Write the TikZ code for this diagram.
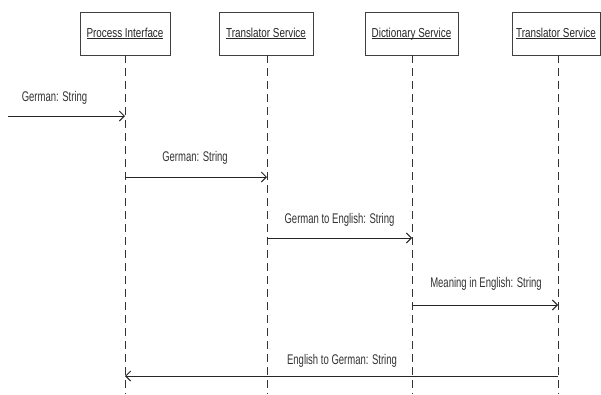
\documentclass[tikz,border=0pt]{standalone}
\usepackage{fontspec}
\setmainfont{Liberation Sans}[FakeStretch=0.76]
\newfontfamily\lblfont{Liberation Sans}[FakeStretch=0.68]
\usetikzlibrary{arrows.meta}
\newcommand{\myul}[1]{\underline{\raisebox{0pt}[\height][0pt]{#1}}}
\begin{document}
\begin{tikzpicture}[x=1pt,y=-1pt,
  objbox/.style={draw=black!75,line width=0.9pt,fill=white,minimum height=43pt,inner sep=0pt,font=\fontsize{13}{15}\selectfont,text=black!85},
  lifeline/.style={draw=black!80,line width=0.8pt,dash pattern=on 8pt off 5pt},
  msg/.style={draw=black!85,line width=0.9pt,-{Straight Barb[length=5pt,width=10pt]}},
  msglabel/.style={font=\lblfont\fontsize{14}{16}\selectfont,text=black!80,inner sep=0pt}]
\useasboundingbox (0,0) rectangle (601,394);
\fill[white] (0,0) rectangle (601,394);
% lifelines
\coordinate (b1) at (125,394);
\coordinate (b2) at (267,394);
\coordinate (b3) at (412,394);
\coordinate (b4) at (558,394);
\node[objbox,minimum width=90pt] (o1) at (125,33.5) {\myul{Process Interface}};
\node[objbox,minimum width=94pt] (o2) at (266,33.5) {\myul{Translator Service}};
\node[objbox,minimum width=93pt] (o3) at (411.5,33.5) {\myul{Dictionary Service}};
\node[objbox,minimum width=88pt] (o4) at (556,33.5) {\myul{Translator Service}};
\draw[lifeline] (o1.south -| b1) -- (b1);
\draw[lifeline] (o2.south -| b2) -- (b2);
\draw[lifeline] (o3.south -| b3) -- (b3);
\draw[lifeline] (o4.south -| b4) -- (b4);
% message endpoints
\coordinate (m1s) at (8,116);   \coordinate (m1e) at (125,116);
\coordinate (m2s) at (125,177); \coordinate (m2e) at (267,177);
\coordinate (m3s) at (267,238); \coordinate (m3e) at (412,238);
\coordinate (m4s) at (412,305); \coordinate (m4e) at (558,305);
\coordinate (m5s) at (558,376); \coordinate (m5e) at (125,376);
\draw[msg] (m1s) -- (m1e);
\draw[msg] (m2s) -- (m2e);
\draw[msg] (m3s) -- (m3e);
\draw[msg] (m4s) -- (m4e);
\draw[msg] (m5s) -- (m5e);
\node[msglabel] (t1) at (54.5,98) {German: String};
\node[msglabel] (t2) at (195,158) {German: String};
\node[msglabel] (t3) at (339.5,220) {German to English: String};
\node[msglabel] (t4) at (486,284) {Meaning in English: String};
\node[msglabel] (t5) at (342,361) {English to German: String};
\end{tikzpicture}
\end{document}
